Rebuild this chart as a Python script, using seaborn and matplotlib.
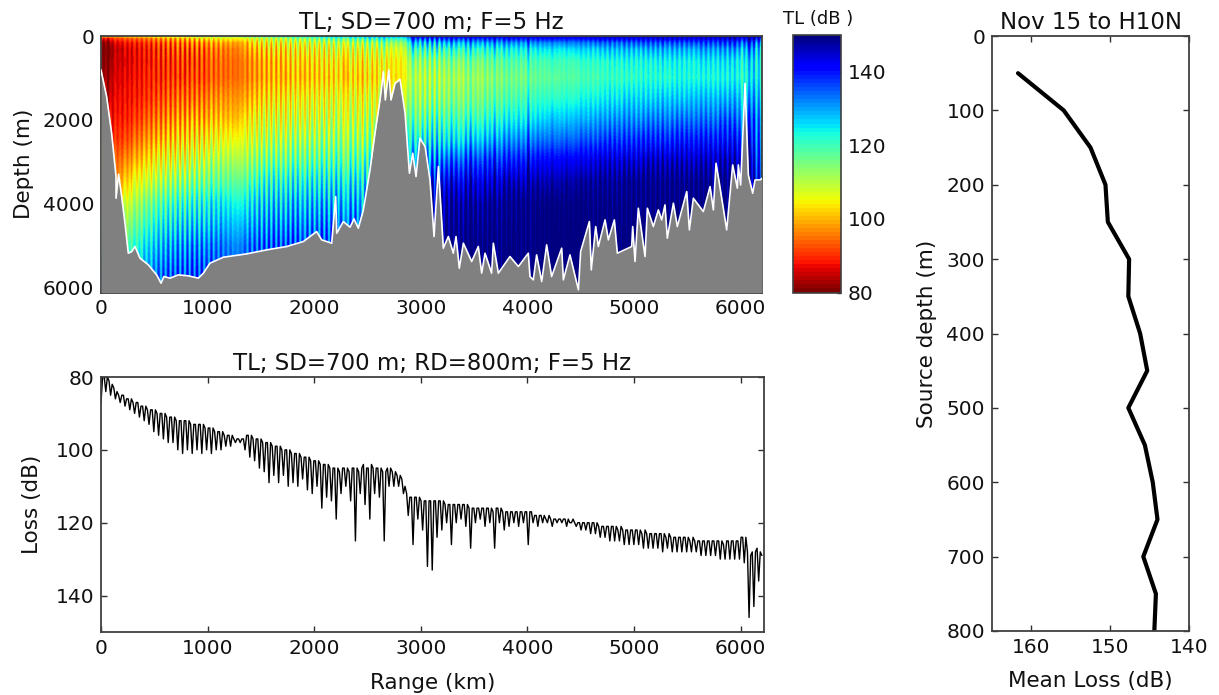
# plot.py -- transmission loss section, loss at receiver depth, mean loss vs source depth
import numpy as np
import pandas as pd
import matplotlib
matplotlib.use('Agg')
import matplotlib.pyplot as plt
import seaborn as sns

W, H = 1219, 695

# depth levels (m) for the TL table, one table row per 100 km of range
tl_depths = [0, 50, 150, 300, 600, 1000, 1500, 2000, 2500, 3000, 3500, 4000, 5000, 6125]
tl_profiles = [
    [100, 88, 82, 80, 81, 83, 85, 88, 92, 96, 100, 105, 115, 125],
    [100, 90, 85, 83, 84, 85, 86, 87, 89, 93, 97, 102, 114, 125],
    [102, 92, 87, 85, 85, 86, 87, 88, 91, 96, 101, 107, 118, 128],
    [103, 93, 88, 86, 86, 87, 88, 90, 94, 99, 105, 111, 121, 130],
    [104, 94, 89, 87, 87, 88, 89, 92, 96, 101, 107, 114, 124, 132],
    [105, 95, 90, 88, 88, 88, 90, 93, 97, 103, 109, 116, 126, 134],
    [106, 96, 91, 89, 88, 89, 91, 94, 98, 104, 110, 117, 127, 135],
    [107, 97, 92, 90, 89, 89, 92, 95, 99, 105, 111, 118, 128, 135],
    [108, 98, 93, 90, 89, 90, 92, 96, 100, 106, 112, 119, 129, 136],
    [109, 100, 94, 91, 90, 90, 93, 96, 101, 107, 113, 120, 129, 136],
    [110, 102, 96, 93, 92, 92, 95, 98, 103, 109, 115, 122, 130, 136],
    [112, 103, 97, 94, 93, 93, 96, 99, 104, 110, 116, 123, 131, 136],
    [113, 104, 98, 95, 94, 94, 97, 100, 105, 111, 117, 123, 131, 136],
    [114, 105, 99, 97, 95, 95, 98, 102, 106, 111, 117, 123, 132, 136],
    [115, 106, 101, 98, 96, 96, 99, 103, 107, 112, 118, 124, 132, 137],
    [116, 107, 102, 99, 97, 97, 100, 104, 108, 113, 119, 124, 132, 137],
    [118, 108, 103, 100, 98, 98, 101, 105, 109, 114, 120, 125, 133, 137],
    [119, 109, 104, 101, 99, 98, 102, 105, 109, 114, 120, 125, 133, 137],
    [121, 111, 105, 102, 100, 99, 103, 106, 110, 115, 121, 126, 133, 137],
    [122, 112, 106, 103, 100, 99, 103, 106, 110, 115, 121, 126, 133, 138],
    [124, 114, 107, 104, 101, 100, 104, 107, 111, 116, 122, 127, 134, 138],
    [125, 115, 108, 105, 102, 100, 104, 107, 111, 116, 122, 127, 134, 138],
    [126, 116, 109, 106, 102, 101, 105, 108, 112, 117, 123, 128, 135, 138],
    [127, 117, 110, 106, 103, 101, 105, 108, 112, 117, 123, 128, 135, 138],
    [128, 118, 111, 107, 103, 101, 105, 108, 112, 118, 124, 129, 135, 138],
    [129, 120, 112, 108, 104, 102, 106, 109, 113, 118, 124, 129, 136, 138],
    [130, 121, 114, 109, 104, 103, 107, 110, 113, 119, 125, 129, 136, 138],
    [130, 122, 114, 109, 105, 104, 108, 111, 115, 120, 125, 130, 136, 138],
    [131, 123, 115, 110, 106, 105, 108, 112, 116, 121, 126, 130, 136, 138],
    [143, 136, 127, 120, 113, 110, 112, 116, 122, 130, 138, 144, 149, 150],
    [143, 136, 127, 120, 113, 110, 112, 117, 123, 131, 139, 145, 149, 150],
    [143, 136, 127, 120, 113, 110, 113, 118, 124, 132, 140, 146, 150, 150],
    [143, 137, 128, 120, 114, 111, 113, 118, 124, 133, 141, 146, 150, 150],
    [144, 137, 128, 121, 114, 111, 114, 119, 125, 134, 142, 147, 150, 150],
    [144, 137, 128, 121, 115, 112, 114, 119, 126, 135, 142, 147, 150, 150],
    [144, 138, 129, 122, 115, 112, 115, 120, 127, 136, 143, 147, 150, 150],
    [144, 138, 129, 122, 116, 113, 116, 121, 128, 137, 143, 148, 150, 150],
    [144, 138, 130, 123, 117, 114, 117, 122, 129, 137, 144, 148, 150, 150],
    [145, 139, 130, 123, 118, 115, 118, 123, 130, 138, 145, 148, 150, 150],
    [145, 139, 130, 124, 118, 115, 119, 124, 131, 139, 145, 149, 150, 150],
    [145, 139, 131, 124, 119, 116, 120, 125, 132, 140, 146, 149, 150, 150],
    [145, 140, 131, 125, 119, 117, 121, 126, 133, 141, 146, 149, 150, 150],
    [145, 140, 131, 125, 120, 117, 121, 127, 133, 141, 146, 149, 150, 150],
    [145, 140, 132, 125, 120, 118, 122, 127, 134, 142, 147, 149, 150, 150],
    [145, 140, 132, 126, 120, 118, 122, 128, 134, 142, 147, 149, 150, 150],
    [145, 140, 132, 126, 121, 119, 123, 128, 135, 142, 147, 149, 150, 150],
    [146, 141, 133, 126, 121, 119, 123, 129, 135, 143, 147, 149, 150, 150],
    [146, 141, 133, 127, 121, 120, 124, 129, 136, 143, 147, 149, 150, 150],
    [146, 141, 133, 127, 122, 120, 124, 130, 136, 143, 147, 149, 150, 150],
    [146, 141, 133, 127, 122, 120, 125, 130, 136, 143, 148, 149, 150, 150],
    [146, 141, 134, 127, 122, 121, 125, 130, 137, 143, 148, 149, 150, 150],
    [146, 141, 134, 128, 122, 121, 125, 131, 137, 144, 148, 149, 150, 150],
    [146, 142, 134, 128, 123, 121, 126, 131, 137, 144, 148, 149, 150, 150],
    [146, 142, 134, 128, 123, 121, 126, 131, 137, 144, 148, 149, 150, 150],
    [146, 142, 134, 128, 123, 122, 126, 132, 138, 144, 148, 149, 150, 150],
    [146, 142, 135, 128, 123, 122, 127, 132, 138, 144, 148, 149, 150, 150],
    [146, 142, 135, 129, 124, 122, 127, 132, 138, 144, 148, 149, 150, 150],
    [147, 142, 135, 129, 124, 122, 127, 132, 138, 144, 148, 149, 150, 150],
    [147, 142, 135, 129, 124, 122, 127, 133, 138, 144, 148, 149, 150, 150],
    [147, 143, 136, 130, 124, 123, 128, 133, 139, 144, 148, 149, 150, 150],
    [147, 143, 136, 130, 125, 123, 128, 134, 139, 145, 148, 149, 150, 150],
    [146, 140, 132, 127, 124, 124, 128, 132, 134, 137, 140, 143, 146, 148],
    [146, 140, 132, 127, 124, 124, 128, 132, 134, 137, 140, 143, 146, 148],
]
# how strongly the range ripple shows at each depth level
ripple_weight = [0.5, 1.5, 1.8, 1.8, 1.4, 1.2, 1.4, 1.7, 1.8, 1.8, 1.8, 1.8, 1.8, 1.8]

# loss (dB) along range at 800 m receiver depth, evenly spaced over 0-6200 km,
# written as null/top/top for each interference fringe (about 45 km apart)
loss_db = [
    87, 80, 80, 84, 80, 81, 85, 82, 83, 86, 84, 85, 87, 85, 85, 88, 86, 86, 89, 86, 87, 90, 87, 87, 91, 88, 88, 92, 88, 89,
    93, 89, 89, 95, 89, 90, 96, 90, 90, 97, 90, 91, 98, 91, 91, 98, 91, 92, 100, 92, 92, 101, 92, 92, 100, 92, 93, 101, 93, 93,
    100, 93, 93, 101, 93, 94, 100, 94, 94, 101, 94, 95, 100, 95, 95, 100, 95, 96, 99, 96, 96, 99, 96, 97, 98, 97, 97, 98, 97, 97,
    100, 96, 96, 102, 96, 97, 103, 97, 97, 105, 97, 98, 106, 98, 98, 109, 98, 99, 107, 99, 99, 109, 99, 100, 107, 100, 100, 110, 100, 101,
    109, 101, 101, 110, 101, 102, 108, 102, 102, 111, 102, 103, 112, 103, 103, 110, 103, 104, 116, 104, 104, 113, 104, 105, 114, 105, 105, 119, 105, 106,
    112, 105, 105, 110, 105, 106, 114, 105, 105, 125, 105, 106, 112, 105, 104, 115, 105, 105, 119, 104, 105, 112, 105, 105, 113, 105, 106, 125, 106, 105,
    110, 105, 106, 110, 106, 107, 110, 107, 108, 112, 110, 112, 118, 113, 113, 126, 113, 113, 119, 113, 114, 122, 114, 114, 132, 114, 114, 133, 114, 114,
    124, 114, 114, 122, 114, 115, 120, 115, 115, 126, 115, 115, 120, 115, 115, 119, 115, 115, 121, 115, 116, 127, 116, 116, 120, 116, 116, 119, 116, 116,
    121, 116, 116, 120, 116, 117, 127, 116, 116, 120, 116, 117, 122, 117, 117, 121, 117, 117, 120, 117, 117, 121, 117, 117, 120, 117, 117, 126, 117, 117,
    120, 118, 118, 121, 118, 118, 120, 118, 119, 120, 118, 119, 121, 119, 119, 120, 119, 119, 120, 119, 119, 121, 119, 120, 120, 119, 120, 121, 120, 120,
    122, 120, 120, 122, 120, 120, 123, 120, 120, 123, 120, 121, 124, 121, 121, 124, 121, 121, 125, 121, 121, 125, 121, 122, 125, 121, 122, 126, 122, 122,
    126, 122, 122, 126, 122, 122, 126, 122, 123, 127, 122, 123, 127, 123, 123, 127, 123, 123, 127, 123, 123, 128, 123, 124, 127, 123, 124, 128, 124, 124,
    128, 124, 124, 128, 124, 124, 128, 124, 125, 128, 124, 125, 128, 125, 125, 129, 125, 125, 129, 125, 125, 129, 125, 125, 129, 125, 125, 130, 125, 126,
    130, 125, 125, 130, 125, 125, 130, 125, 125, 130, 124, 124, 131, 124, 128, 146, 129, 128, 143, 128, 127, 136, 128, 129,
]

# seabed picked off the section
bathy_range = [0, 53, 100, 141, 141, 165, 194, 225, 256, 288, 319, 366, 444, 522, 563, 591, 647, 725,
               819, 913, 960, 1022, 1148, 1366, 1554, 1742, 1898, 2023, 2070, 2164, 2201, 2211, 2273,
               2336, 2373, 2414, 2461, 2523, 2570, 2617, 2649, 2667, 2699, 2720, 2758, 2805, 2852,
               2893, 2924, 2955, 2992, 3040, 3086, 3124, 3165, 3211, 3258, 3305, 3330, 3361, 3399,
               3477, 3539, 3571, 3602, 3664, 3680, 3727, 3836, 3915, 4008, 4024, 4055, 4086, 4134,
               4180, 4227, 4321, 4337, 4399, 4478, 4499, 4540, 4581, 4599, 4640, 4665, 4728, 4759,
               4815, 4843, 4978, 4987, 5009, 5040, 5103, 5125, 5181, 5228, 5259, 5290, 5312, 5369,
               5406, 5494, 5519, 5556, 5650, 5713, 5744, 5769, 5800, 5869, 5925, 5969, 5978, 6000,
               6041, 6072, 6113, 6135, 6182, 6200]
bathy_depth = [811, 1448, 2323, 3357, 3874, 3300, 3834, 4470, 5186, 5147, 5027, 5306, 5465, 5704, 5903,
               5743, 5783, 5704, 5727, 5783, 5664, 5425, 5282, 5203, 5107, 5027, 4908, 4670, 4868, 4948,
               3834, 4709, 4431, 4566, 4367, 4590, 4152, 3198, 2323, 1527, 851, 1527, 811, 1527, 1130,
               1034, 1846, 3277, 2800, 3357, 2442, 2641, 3437, 4789, 3118, 5067, 4789, 5187, 4789, 5545,
               4948, 5385, 5027, 5664, 5187, 5664, 4948, 5664, 5266, 5505, 5187, 5744, 5823, 5227, 5863,
               4988, 5744, 5067, 5823, 5227, 6062, 5147, 4789, 4431, 5585, 4550, 5027, 4391, 4868, 4391,
               5187, 5027, 4550, 5385, 4113, 5266, 4113, 4550, 4153, 4391, 4033, 4829, 3993, 4550, 3715,
               4630, 3874, 4192, 3596, 4153, 3039, 3516, 4630, 3079, 3635, 3079, 3556, 1130, 3317, 3755,
               3437, 3437, 3400]

# right panel
source_depth = [50, 100, 150, 200, 250, 300, 350, 400, 450, 500, 550, 600, 650, 700, 750, 800]
mean_loss = [161.7, 155.9, 152.5, 150.6, 150.3, 147.6, 147.7, 146.2, 145.3, 147.7, 145.6, 144.6,
             144.0, 145.8, 144.2, 144.4]

range_ticks = [0, 1000, 2000, 3000, 4000, 5000, 6000]
depth_ticks = [0, 2000, 4000, 6000]
loss_ticks = [80, 100, 120, 140]
cbar_ticks = [80, 100, 120, 140]
source_ticks = [0, 100, 200, 300, 400, 500, 600, 700, 800]
mean_ticks = [160, 150, 140]

sns.set_theme(style='ticks', rc={
    'xtick.direction': 'in', 'ytick.direction': 'in',
    'xtick.top': True, 'ytick.right': True,
    'xtick.major.size': 4, 'ytick.major.size': 4,
    'xtick.major.width': 1.0, 'ytick.major.width': 1.0,
    'axes.linewidth': 1.3, 'axes.edgecolor': '#404040',
    'xtick.color': '#303030', 'ytick.color': '#303030',
    'text.color': '#111111', 'axes.labelcolor': '#111111',
    'xtick.labelcolor': '#111111', 'ytick.labelcolor': '#111111',
})
plt.rcParams['font.family'] = ['DejaVu Sans']
FS = 14.5


def place(l, t, r, b):
    return fig.add_axes([l / W, 1 - b / H, (r - l) / W, (b - t) / H])


fig = plt.figure(figsize=(W / 100, H / 100), dpi=100)

# ── Section ───────────────────────────────────────────────
ax = place(101, 36, 762, 292.5)
loss = np.array(loss_db, dtype=float)
ranges = np.linspace(0, 6200, len(loss))
trend = pd.Series(loss).rolling(15, center=True, min_periods=1).mean().values
ripple = np.clip(loss - trend, -5, 5)

profiles = np.array(tl_profiles, dtype=float)
idx = (ranges // 100).astype(int)
field = profiles[idx].T + np.outer(ripple_weight, ripple)

cmap = plt.get_cmap('jet_r', 64)
ax.contourf(ranges, tl_depths, field, levels=np.linspace(80, 150, 65), cmap=cmap, extend='both')
ax.fill_between(bathy_range, bathy_depth, 6125, color='#808080', lw=0, zorder=3)
sns.lineplot(x=bathy_range, y=bathy_depth, color='white', lw=1.2, estimator=None, sort=False,
             ax=ax, zorder=4)
ax.set_xlim(0, 6200)
ax.set_ylim(6125, 0)
ax.set_xticks(range_ticks)
ax.set_yticks(depth_ticks)
ax.tick_params(labelsize=FS, pad=5)
ax.set_ylabel('Depth (m)', fontsize=FS + 1, labelpad=6)
ax.set_xlabel('')
ax.set_title('TL; SD=700 m; F=5 Hz', fontsize=16.5, pad=5)

# ── Colorbar ──────────────────────────────────────────────
cax = place(793, 35, 841, 292.5)
sm = plt.cm.ScalarMappable(norm=plt.Normalize(80, 150), cmap=cmap)
cb = fig.colorbar(sm, cax=cax, ticks=cbar_ticks)
cb.ax.tick_params(labelsize=FS, direction='in', length=3, pad=5, right=True)
cb.outline.set_linewidth(1.2)
cb.outline.set_edgecolor('#404040')
fig.text(818 / W, 1 - 19 / H, 'TL (dB )', fontsize=13, ha='center', va='center')

# ── Loss along range ──────────────────────────────────────
ax2 = place(101, 377, 764, 632)
sns.lineplot(x=ranges, y=loss, color='black', lw=1.0, estimator=None, sort=False, ax=ax2)
ax2.set_xlim(0, 6220)
ax2.set_ylim(150, 80)
ax2.set_xticks(range_ticks)
ax2.set_yticks(loss_ticks)
ax2.tick_params(labelsize=FS, pad=5)
ax2.set_xlabel('Range (km)', fontsize=FS + 1, labelpad=11)
ax2.set_ylabel('Loss (dB)', fontsize=FS + 1, labelpad=10)
ax2.set_title('TL; SD=700 m; RD=800m; F=5 Hz', fontsize=16.5, pad=5)

# ── Mean loss vs source depth ─────────────────────────────
ax3 = place(992, 36, 1189, 631)
sns.lineplot(x=mean_loss, y=source_depth, color='black', lw=3, estimator=None, sort=False, ax=ax3)
ax3.set_xlim(165, 140)
ax3.set_ylim(800, 0)
ax3.set_xticks(mean_ticks)
ax3.set_yticks(source_ticks)
ax3.tick_params(labelsize=FS, pad=5)
ax3.set_xlabel('Mean Loss (dB)', fontsize=FS + 1, labelpad=10)
ax3.set_ylabel('Source depth (m)', fontsize=FS + 1, labelpad=7)
ax3.set_title('Nov 15 to H10N', fontsize=16.5, pad=5)

fig.savefig('out.png', dpi=100, facecolor='white')
